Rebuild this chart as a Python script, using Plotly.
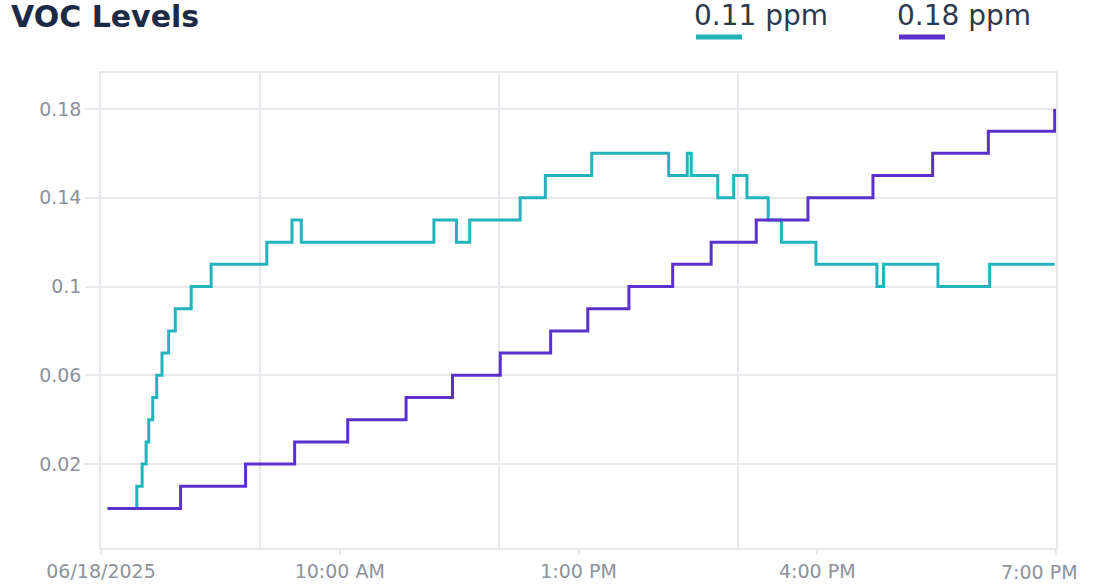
import plotly.graph_objects as go

# ---------------- data ----------------
DAY = "2025-06-18"

teal_times = ["07:05", "07:27", "07:31", "07:34", "07:36", "07:39", "07:42", "07:46",
              "07:51", "07:56", "08:08", "08:23", "09:05", "09:24", "09:31", "11:11",
              "11:28", "11:38", "12:16", "12:35", "13:10", "14:08", "14:22", "14:25",
              "14:45", "14:57", "15:07", "15:23", "15:33", "15:59", "16:45", "16:50",
              "17:31", "18:10", "18:59"]
teal_values = [0.00, 0.01, 0.02, 0.03, 0.04, 0.05, 0.06, 0.07,
               0.08, 0.09, 0.10, 0.11, 0.12, 0.13, 0.12, 0.13,
               0.12, 0.13, 0.14, 0.15, 0.16, 0.15, 0.16, 0.15,
               0.14, 0.15, 0.14, 0.13, 0.12, 0.11, 0.10, 0.11,
               0.10, 0.11, 0.11]

purple_times = ["07:05", "08:00", "08:49", "09:26", "10:06", "10:50", "11:25", "12:01",
                "12:39", "13:07", "13:38", "14:11", "14:40", "15:14", "15:53", "16:42",
                "17:27", "18:09", "18:59"]
purple_values = [0.00, 0.01, 0.02, 0.03, 0.04, 0.05, 0.06, 0.07,
                 0.08, 0.09, 0.10, 0.11, 0.12, 0.13, 0.14, 0.15,
                 0.16, 0.17, 0.18]

x_tick_times = ["07:00", "10:00", "13:00", "16:00", "19:00"]
x_tick_labels = ["06/18/2025", "10:00 AM", "1:00 PM", "4:00 PM", "7:00 PM"]
x_grid_times = ["09:00", "12:00", "15:00"]
y_tick_values = [0.02, 0.06, 0.10, 0.14, 0.18]
y_tick_labels = ["0.02", "0.06", "0.1", "0.14", "0.18"]

TEAL = "#22b3bd"
PURPLE = "#5a31cc"


def ts(t):
    return f"{DAY} {t}"


# ---------------- figure ----------------
W, H = 1097, 585
P_LEFT, P_RIGHT, P_TOP, P_BOTTOM = 101, 1056, 73, 548   # plot area in pixels
ML, MT = P_LEFT, P_TOP
PW, PH = P_RIGHT - P_LEFT, P_BOTTOM - P_TOP
MR, MB = W - ML - PW, H - MT - PH


def px_x(x):
    return (x - P_LEFT) / PW


def px_y(y):
    return (P_BOTTOM - y) / PH


fig = go.Figure()
fig.add_trace(go.Scatter(x=[ts(t) for t in teal_times], y=teal_values, mode="lines",
                         line=dict(shape="hv", color=TEAL, width=3), showlegend=False))
fig.add_trace(go.Scatter(x=[ts(t) for t in purple_times], y=purple_values, mode="lines",
                         line=dict(shape="hv", color=PURPLE, width=3), showlegend=False))

grid = "#e8e8ec"
tickfont = dict(family="DejaVu Sans", size=19, color="#8d929b")

# the last x label sits inside the window (right-aligned), drawn separately
axis_ticktext = x_tick_labels[:-1] + [""]

fig.update_layout(
    width=W, height=H,
    margin=dict(l=ML, r=MR, t=MT, b=MB, autoexpand=False),
    paper_bgcolor="white", plot_bgcolor="white",
    title=dict(text="VOC Levels", x=11 / W, xanchor="left", xref="container",
               y=1 - 16.5 / H, yanchor="middle", yref="container",
               font=dict(family="DejaVu Sans", size=30, color="#1b2a45", weight="bold")),
    xaxis=dict(
        range=[ts("07:00"), ts("19:00")], automargin=False,
        tickmode="array", tickvals=[ts(t) for t in x_tick_times], ticktext=axis_ticktext,
        showgrid=False, ticks="outside", ticklen=5, tickcolor=grid, tickwidth=1.5,
        showline=True, linecolor=grid, linewidth=1.5, mirror=True,
        tickfont=tickfont, zeroline=False, ticklabeloverflow="allow",
        minor=dict(tickmode="array", tickvals=[ts(t) for t in x_grid_times],
                   showgrid=True, gridcolor=grid, gridwidth=1.5, ticks=""),
    ),
    yaxis=dict(
        range=[-0.0178, 0.1962], automargin=False,
        tickmode="array", tickvals=y_tick_values, ticktext=y_tick_labels,
        showgrid=True, gridcolor=grid, gridwidth=1.5,
        ticks="outside", ticklen=14, tickcolor=grid, tickwidth=1.5,
        showline=True, linecolor=grid, linewidth=1.5, mirror=True,
        tickfont=tickfont, zeroline=False,
    ),
)

fig.add_annotation(text=x_tick_labels[-1], xref="x", yref="paper",
                   x=ts(x_tick_times[-1]), y=px_y(572), xanchor="right", yanchor="middle",
                   xshift=24, showarrow=False, font=tickfont)

# custom legend: value text with colored bar underneath
legend_items = [(f"{teal_values[-1]:.2f} ppm", TEAL, 694, 744),
                (f"{purple_values[-1]:.2f} ppm", PURPLE, 897, 947)]
for text, color, x0, x1 in legend_items:
    fig.add_annotation(text=text, xref="paper", yref="paper", x=px_x(x0 - 2), y=px_y(15.5),
                       xanchor="left", yanchor="middle", showarrow=False,
                       font=dict(family="DejaVu Sans", size=28, color="#2b3950"))
    fig.add_shape(type="line", xref="paper", yref="paper",
                  x0=px_x(x0 + 2), x1=px_x(x1 - 2), y0=px_y(37), y1=px_y(37),
                  line=dict(color=color, width=5))

# remove the default 8px page margin so the figure fills the window exactly
fig.write_html("out.html", config={"displayModeBar": False},
               post_script="document.body.style.margin='0px';")
